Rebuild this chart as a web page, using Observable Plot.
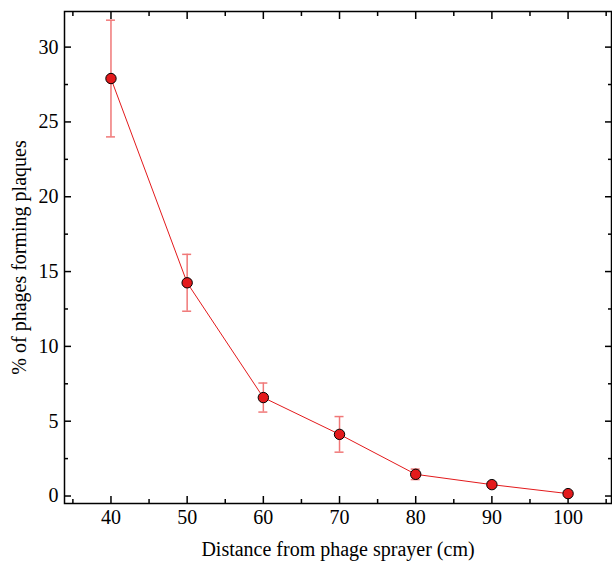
<!DOCTYPE html>
<html>
<head>
<meta charset="utf-8">
<script src="https://cdn.jsdelivr.net/npm/d3@7"></script>
<script src="https://cdn.jsdelivr.net/npm/@observablehq/plot@0.6"></script>
<style>
  html, body { margin: 0; padding: 0; background: #fff; }
  #chart svg { display: block; }
</style>
</head>
<body>
<div id="chart"></div>
<script>
const distance = [40, 50, 60, 70, 80, 90, 100];
const percent = [27.9, 14.25, 6.58, 4.12, 1.45, 0.76, 0.16];
const errorPct = [3.9, 1.9, 0.97, 1.19, 0.35, 0.1, 0.08];
const xMajorTicks = [40, 50, 60, 70, 80, 90, 100];
const xMinorTicks = [35, 45, 55, 65, 75, 85, 95, 105];
const yMajorTicks = [0, 5, 10, 15, 20, 25, 30];
const yMinorTicks = [2.5, 7.5, 12.5, 17.5, 22.5, 27.5];
const xTitle = "Distance from phage sprayer (cm)";
const yTitle = "% of phages forming plaques";

const data = distance.map((d, i) => ({
  x: d, y: percent[i], lo: percent[i] - errorPct[i], hi: percent[i] + errorPct[i]
}));

const red = "#e31a1c";
const errColor = "#f07878";
const blank = () => "";

const chart = Plot.plot({
  width: 612,
  height: 562,
  marginLeft: 64,
  marginRight: 1,
  marginTop: 11,
  marginBottom: 59,
  style: { fontFamily: "'Liberation Serif', 'Times New Roman', serif", fontSize: "20px", background: "#fff", color: "#000" },
  x: { domain: [33.9, 105.7] },
  y: { domain: [-0.5, 32.38] },
  marks: [
    // bottom axis
    Plot.axisX({ anchor: "bottom", ticks: xMajorTicks, tickSize: -7, tickPadding: 13, strokeWidth: 1.5,
      label: xTitle, labelAnchor: "center", labelArrow: "none", labelOffset: 52 }),
    Plot.axisX({ anchor: "bottom", ticks: xMinorTicks, tickSize: -4, tickFormat: blank, strokeWidth: 1.5, label: null }),
    // top axis
    Plot.axisX({ anchor: "top", ticks: xMajorTicks, tickSize: -7, tickFormat: blank, strokeWidth: 1.5, label: null }),
    Plot.axisX({ anchor: "top", ticks: xMinorTicks, tickSize: -4, tickFormat: blank, strokeWidth: 1.5, label: null }),
    // left axis
    Plot.axisY({ anchor: "left", ticks: yMajorTicks, tickSize: -7, tickPadding: 13, strokeWidth: 1.5,
      label: yTitle, labelAnchor: "center", labelArrow: "none", labelOffset: 53 }),
    Plot.axisY({ anchor: "left", ticks: yMinorTicks, tickSize: -4, tickFormat: blank, strokeWidth: 1.5, label: null }),
    // right axis
    Plot.axisY({ anchor: "right", ticks: yMajorTicks, tickSize: -7, tickFormat: blank, strokeWidth: 1.5, label: null }),
    Plot.axisY({ anchor: "right", ticks: yMinorTicks, tickSize: -4, tickFormat: blank, strokeWidth: 1.5, label: null }),
    Plot.frame({ stroke: "#000", strokeWidth: 1.5 }),
    // error bars
    Plot.ruleX(data, { x: "x", y1: "lo", y2: "hi", stroke: errColor, strokeWidth: 1.5 }),
    Plot.ruleY(data, { y: "hi", x1: "x", x2: "x", insetLeft: -4.5, insetRight: -4.5, stroke: errColor, strokeWidth: 1.5 }),
    Plot.ruleY(data, { y: "lo", x1: "x", x2: "x", insetLeft: -4.5, insetRight: -4.5, stroke: errColor, strokeWidth: 1.5 }),
    // line + markers
    Plot.line(data, { x: "x", y: "y", stroke: red, strokeWidth: 1 }),
    Plot.dot(data, { x: "x", y: "y", r: 5.2, fill: red, stroke: "#000", strokeWidth: 1 })
  ]
});
document.getElementById("chart").appendChild(chart);
</script>
</body>
</html>
